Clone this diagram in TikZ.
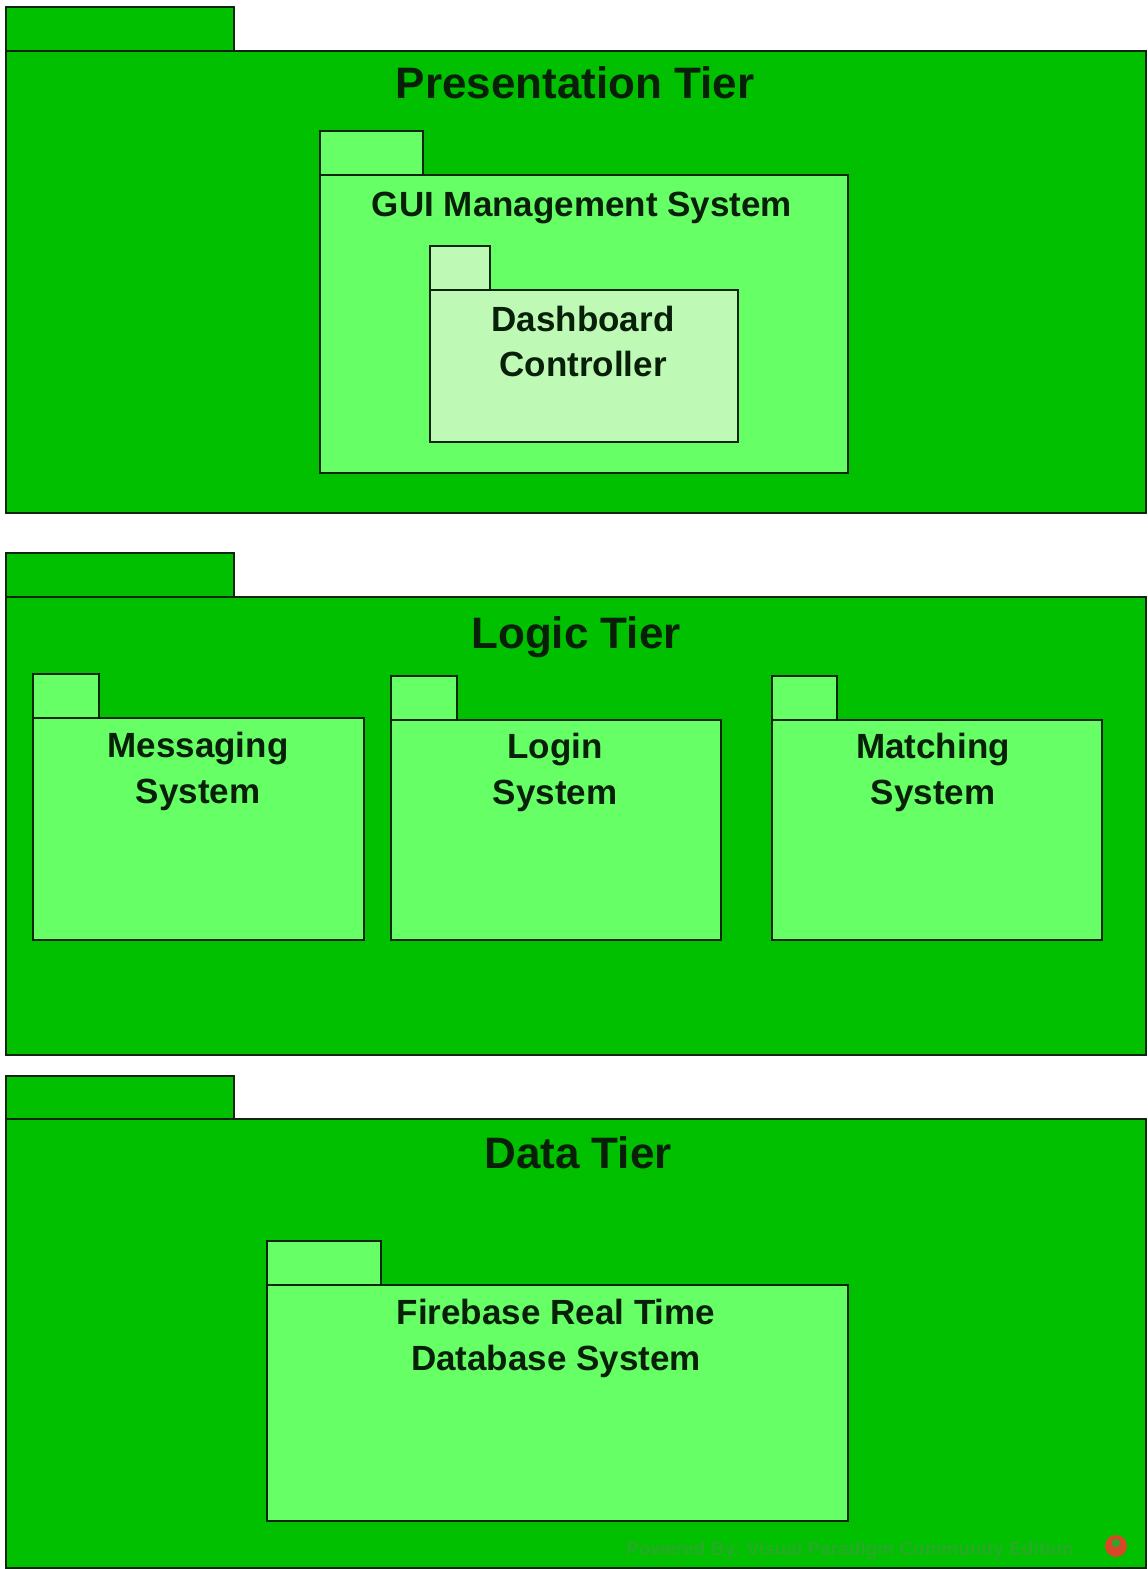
\documentclass[tikz,border=0pt]{standalone}
\usepackage{fontspec}
\setmainfont{Liberation Sans}
\definecolor{tiergreen}{RGB}{0,192,0}
\definecolor{pkggreen}{RGB}{102,255,102}
\definecolor{subgreen}{RGB}{190,250,182}
\definecolor{pkgline}{RGB}{16,36,16}
\definecolor{ink}{RGB}{8,32,8}
\definecolor{faint}{RGB}{40,170,40}
\definecolor{vpred}{RGB}{214,72,40}
% package = tab + body: style, left, tab top, tab right, body top, right, bottom
\newcommand{\umlpkg}[7]{%
  \draw[#1] (#2,#3) rectangle (#4,#5);
  \draw[#1] (#2,#5) rectangle (#6,#7);}
\tikzset{
  tier/.style={draw=pkgline, fill=tiergreen, line width=1.8pt},
  pkg/.style={draw=pkgline, fill=pkggreen, line width=1.8pt},
  subpkg/.style={draw=pkgline, fill=subgreen, line width=1.8pt},
  tiertitle/.style={font=\fontsize{44}{52}\selectfont\bfseries, anchor=base, text=ink, inner sep=0pt},
  pkgtitle/.style={font=\fontsize{35}{45}\selectfont\bfseries, anchor=base, text=ink, inner sep=0pt},
}
\begin{document}
\begin{tikzpicture}[x=1pt,y=-1pt]
  \useasboundingbox[fill=white] (0,0) rectangle (1148,1569);
  % presentation tier
  \umlpkg{tier}{6}{7}{234}{51}{1146}{513}
  \node[tiertitle] (presTitle) at (575,98) {Presentation Tier};
  \umlpkg{pkg}{320}{131}{423}{175}{848}{473}
  \node[pkgtitle] (gui) at (582,216) {GUI Management System};
  \umlpkg{subpkg}{430}{246}{490}{290}{738}{442}
  \node[pkgtitle] (dash1) at (583,331) {Dashboard};
  \node[pkgtitle] (dash2) at (583,376) {Controller};
  % logic tier
  \umlpkg{tier}{6}{553}{234}{597}{1146}{1055}
  \node[tiertitle] (logicTitle) at (576,648) {Logic Tier};
  \umlpkg{pkg}{33}{674}{99}{718}{364}{940}
  \node[pkgtitle] (msg1) at (198,757) {Messaging};
  \node[pkgtitle] (msg2) at (198,803) {System};
  \umlpkg{pkg}{391}{676}{457}{720}{721}{940}
  \node[pkgtitle] (login1) at (555,758) {Login};
  \node[pkgtitle] (login2) at (555,804) {System};
  \umlpkg{pkg}{772}{676}{837}{720}{1102}{940}
  \node[pkgtitle] (match1) at (933,758) {Matching};
  \node[pkgtitle] (match2) at (933,804) {System};
  % data tier
  \umlpkg{tier}{6}{1076}{234}{1119}{1146}{1568}
  \node[tiertitle] (dataTitle) at (578,1168) {Data Tier};
  \umlpkg{pkg}{267}{1241}{381}{1285}{848}{1521}
  \node[pkgtitle] (fire1) at (556,1324) {Firebase Real Time};
  \node[pkgtitle] (fire2) at (556,1370) {Database System};
  % watermark
  \node[anchor=base, text=faint, inner sep=0pt, font=\fontsize{19}{22}\selectfont\bfseries]
    (mark) at (850,1555) {Powered By:\ Visual Paradigm Community Edition};
  \fill[vpred] (1116,1546) circle (11);
  \fill[faint] (1116,1543) circle (4);
\end{tikzpicture}
\end{document}
